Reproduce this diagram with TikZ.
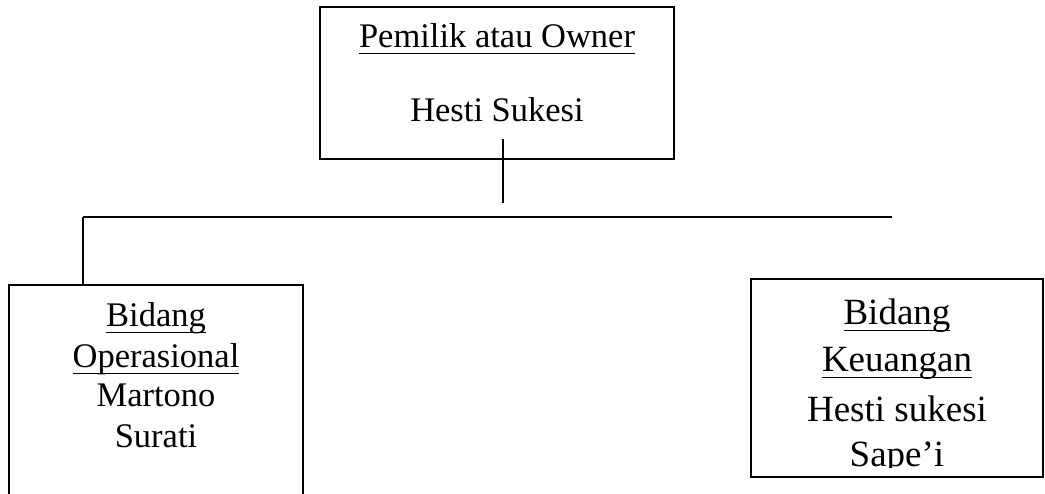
\documentclass[tikz,border=0pt]{standalone}
\usepackage{fontspec}
\setmainfont{Liberation Serif}
\newcommand\ulx[1]{\setbox0\hbox{#1}\rlap{\rule[-6.5pt]{\wd0}{1.8pt}}#1}
\begin{document}
\begin{tikzpicture}[x=1pt,y=-1pt,
  box/.style={draw=black,line width=1.5pt,rectangle,inner sep=0pt,outer sep=0pt,fill=none},
  conn/.style={draw=black,line width=1.5pt},
  txt/.style={anchor=base,inner sep=0pt,font=\fontsize{34.5}{40}\selectfont},
  txtb/.style={anchor=base,inner sep=0pt,font=\fontsize{37}{44}\selectfont}]
\useasboundingbox (0,0) rectangle (1045,494);
\clip (0,0) rectangle (1045,494);
% boxes
\node[box,minimum width=354pt,minimum height=152pt] (owner) at (497,83) {};
\node[box,minimum width=294pt,minimum height=235pt] (ops) at (156,402.5) {};
\node[box,minimum width=292pt,minimum height=198pt] (keu) at (897,378) {};
% texts
\node[txt] (t1) at (497,48) {\ulx{Pemilik atau Owner}};
\node[txt] (t2) at (497,122) {Hesti Sukesi};
\node[txt] (l1) at (156,327) {\ulx{Bidang}};
\node[txt] (l2) at (156,368) {\ulx{Operasional}};
\node[txt] (l3) at (156,407) {Martono};
\node[txt] (l4) at (156,447) {Surati};
\node[txtb] (r1) at (897,325) {\ulx{Bidang}};
\node[txtb] (r2) at (897,372) {\ulx{Keuangan}};
\node[txtb] (r3) at (897,422) {Hesti sukesi};
\begin{scope}
\clip (751,279) rectangle (1043,467);
\node[txtb] (r4) at (897,466) {Sape’i};
\end{scope}
% connectors
\coordinate (vtop) at (503,139);
\coordinate (vbot) at (503,203);
\coordinate (hl) at (83,217);
\coordinate (hr) at (892,217);
\draw[conn] (vtop) -- (vbot);
\draw[conn] (hl) -- (hr);
\draw[conn] (hl) -- (hl |- ops.north);
\end{tikzpicture}
\end{document}
